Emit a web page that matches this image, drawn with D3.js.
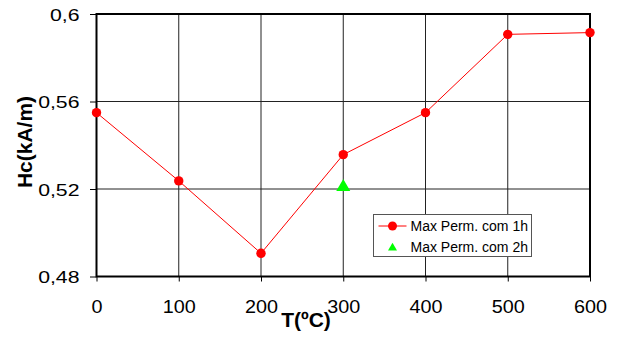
<!DOCTYPE html>
<html><head><meta charset="utf-8">
<script src="https://cdn.jsdelivr.net/npm/d3@7/dist/d3.min.js"></script>
<style>body{margin:0;background:#fff}svg{display:block;font-family:"Liberation Sans",Arial,sans-serif}</style>
</head><body><svg id="c" width="620" height="338"></svg>
<script>
const temps = [0, 100, 200, 300, 400, 500, 600];
const hc1h = [0.5549, 0.5237, 0.4906, 0.5357, 0.5549, 0.5907, 0.5915];
const temps2h = [300];
const hc2h = [0.5209];
const xTicks = [0, 100, 200, 300, 400, 500, 600];
const yTicks = [0.48, 0.52, 0.56, 0.6];
const yTickLabels = ["0,48", "0,52", "0,56", "0,6"];
const seriesNames = ["Max Perm. com 1h", "Max Perm. com 2h"];

const svg = d3.select("#c");
const L = 96.5, R = 590, T = 14, B = 276.5;
const x = d3.scaleLinear().domain([0, 600]).range([L, R]);
const y = d3.scaleLinear().domain([0.48, 0.6]).range([B, T]);
const FF = '"Liberation Sans",Arial,sans-serif';

// grid
svg.append("g").selectAll("line").data(xTicks.slice(1, -1)).join("line")
  .attr("x1", d => x(d)).attr("x2", d => x(d)).attr("y1", T).attr("y2", B)
  .attr("stroke", "#222").attr("stroke-width", 1);
svg.append("g").selectAll("line").data(yTicks.slice(1, -1)).join("line")
  .attr("x1", L).attr("x2", R).attr("y1", d => y(d)).attr("y2", d => y(d))
  .attr("stroke", "#222").attr("stroke-width", 1);

// axes
const xAxis = d3.axisBottom(x).tickValues(xTicks).tickSize(5).tickSizeOuter(0).tickPadding(18.5);
const gx = svg.append("g").attr("transform", `translate(0,${B})`).call(xAxis);
gx.attr("font-family", FF);
gx.select(".domain").remove();
gx.selectAll("text").attr("font-size", 18).attr("fill", "#000").attr("transform", "scale(1.1,1)");
gx.selectAll("line").attr("stroke", "#000");

const yAxis = d3.axisLeft(y).tickValues(yTicks).tickFormat((d, i) => yTickLabels[i]).tickSize(6.5).tickSizeOuter(0);
const gy = svg.append("g").attr("transform", `translate(${L},0)`).call(yAxis);
gy.attr("font-family", FF);
gy.select(".domain").remove();
gy.selectAll("text").attr("font-size", 17).attr("fill", "#000")
  .attr("x", null).attr("dy", "0.38em").attr("transform", "translate(-17,0) scale(1.25,1)");
gy.selectAll("line").attr("stroke", "#000");

// border
svg.append("rect").attr("x", L).attr("y", T).attr("width", R - L).attr("height", B - T)
  .attr("fill", "none").attr("stroke", "#000").attr("stroke-width", 2);

// series 1
const line = d3.line().x((d, i) => x(temps[i])).y(d => y(d));
svg.append("path").datum(hc1h).attr("d", line).attr("fill", "none").attr("stroke", "#ff0000").attr("stroke-width", 1);
svg.append("g").selectAll("circle").data(hc1h).join("circle")
  .attr("cx", (d, i) => x(temps[i])).attr("cy", d => y(d)).attr("r", 4.7).attr("fill", "#ff0000");

// series 2
const tri = d3.symbol().type(d3.symbolTriangle).size(85);
svg.append("g").selectAll("path").data(hc2h).join("path")
  .attr("d", tri).attr("transform", (d, i) => `translate(${x(temps2h[i])},${y(d)})`).attr("fill", "#00ff00");

// axis titles
svg.append("text").attr("x", 306).attr("y", 327).attr("text-anchor", "middle")
  .attr("font-size", 21).attr("font-weight", "bold").text("T(ºC)");
svg.append("text").attr("transform", `translate(32,142) rotate(-90)`).attr("text-anchor", "middle")
  .attr("font-size", 21).attr("font-weight", "bold").text("Hc(kA/m)");

// legend
const lg = svg.append("g").attr("transform", "translate(373.5,214.5)");
lg.append("rect").attr("width", 158).attr("height", 42).attr("fill", "#fff").attr("stroke", "#555").attr("stroke-width", 1);
lg.append("line").attr("x1", 5).attr("x2", 33).attr("y1", 11.5).attr("y2", 11.5).attr("stroke", "#ff0000");
lg.append("circle").attr("cx", 19).attr("cy", 11.5).attr("r", 4.5).attr("fill", "#ff0000");
lg.append("path").attr("d", d3.symbol().type(d3.symbolTriangle).size(35)).attr("transform", "translate(19,33.5)").attr("fill", "#00ff00");
lg.selectAll("text").data(seriesNames).join("text")
  .attr("x", 37).attr("y", (d, i) => 16 + i * 21.5).attr("font-size", 14).text(d => d);
</script></body></html>
